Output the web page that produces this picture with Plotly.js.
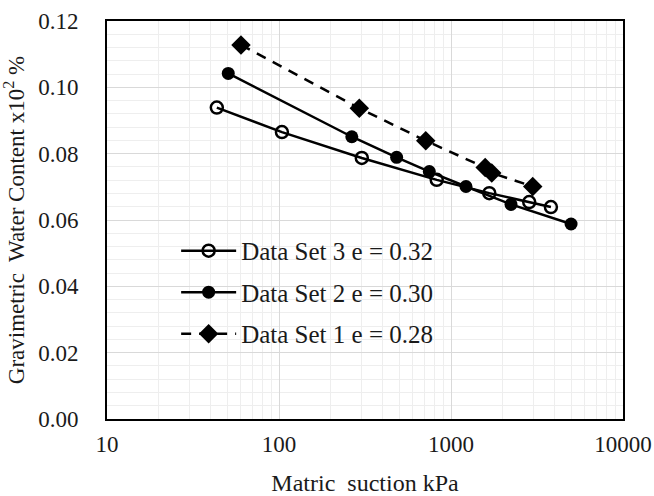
<!DOCTYPE html>
<html>
<head>
<meta charset="utf-8">
<script src="https://cdn.plot.ly/plotly-3.0.1.min.js"></script>
<style>html,body{margin:0;padding:0;background:#fff;}#chart{width:654px;height:496px;}</style>
</head>
<body>
<div id="chart"></div>
<script>
// Data Set 3 (e = 0.32) – open circles
const set3Suction = [43.5, 104, 303, 826, 1670, 2850, 3810];
const set3Water   = [0.0939, 0.0865, 0.0787, 0.0721, 0.0681, 0.0654, 0.0639];
// Data Set 2 (e = 0.30) – filled circles
const set2Suction = [50.7, 265, 483, 748, 1222, 2233, 4990];
const set2Water   = [0.1042, 0.0851, 0.0789, 0.0746, 0.0701, 0.0647, 0.0588];
// Data Set 1 (e = 0.28) – diamonds, dashed
const set1Suction = [60.1, 293, 713, 1580, 1725, 2986];
const set1Water   = [0.1128, 0.0937, 0.0839, 0.0758, 0.0742, 0.0701];

const seriesNames = ['Data Set 3 e = 0.32', 'Data Set 2 e = 0.30', 'Data Set 1 e = 0.28'];
const xTickVals = [10, 100, 1000, 10000];
const xTickText = ['10', '100', '1000', '10000'];

const FONT = 'Liberation Serif, Times New Roman, serif';
const INK = '#1a1a1a';

const traces = [
  {
    x: set3Suction, y: set3Water, name: seriesNames[0], legendgroup: 'g3',
    type: 'scatter', mode: 'lines+markers',
    line: {color: '#000', width: 2.5},
    marker: {symbol: 'circle-open', size: 12, color: '#000', line: {width: 2.5, color: '#000'}}
  },
  {
    x: set2Suction, y: set2Water, name: seriesNames[1], legendgroup: 'g2',
    type: 'scatter', mode: 'lines+markers',
    line: {color: '#000', width: 2.5},
    marker: {symbol: 'circle', size: 13, color: '#000'}
  },
  {
    x: set1Suction, y: set1Water, name: seriesNames[2], legendgroup: 'g1',
    type: 'scatter', mode: 'lines+markers',
    line: {color: '#000', width: 2.5, dash: '10px,8px'},
    marker: {symbol: 'diamond', size: 15, color: '#000'}
  }
];

const layout = {
  width: 654, height: 496,
  margin: {l: 107, r: 31, t: 21, b: 77},
  paper_bgcolor: '#fff', plot_bgcolor: '#fff',
  font: {family: FONT, color: INK, size: 23},
  showlegend: true,
  legend: {
    x: 0.134, y: 0.48, xanchor: 'left', yanchor: 'top',
    bgcolor: 'rgba(0,0,0,0)', borderwidth: 0,
    font: {family: FONT, size: 25, color: INK},
    tracegroupgap: 6, itemwidth: 55
  },
  xaxis: {
    type: 'log', range: [1, 4],
    tickvals: xTickVals, ticktext: xTickText,
    showgrid: true, gridcolor: '#d9d9d9', gridwidth: 1,
    minor: {dtick: 'D1', showgrid: true, gridcolor: '#eeeeee', gridwidth: 1},
    showline: true, linecolor: '#000', linewidth: 2, mirror: true,
    ticks: '', zeroline: false, ticklabelstandoff: 3,
    tickfont: {family: FONT, size: 23, color: INK},
    title: {text: 'Matric&nbsp; suction kPa', font: {family: FONT, size: 24, color: INK}, standoff: 22}
  },
  yaxis: {
    range: [0, 0.12], dtick: 0.02, tick0: 0, tickformat: '.2f',
    showgrid: true, gridcolor: '#d9d9d9', gridwidth: 1,
    minor: {dtick: 0.004, showgrid: true, gridcolor: '#eeeeee', gridwidth: 1},
    showline: true, linecolor: '#000', linewidth: 2, mirror: true,
    ticks: '', zeroline: false, ticklabelstandoff: 22,
    tickfont: {family: FONT, size: 23, color: INK},
    title: {text: 'Gravimetric&nbsp; Water Content x10<sup>2</sup> %', font: {family: FONT, size: 23, color: INK}, standoff: 9}
  }
};

Plotly.newPlot('chart', traces, layout, {displayModeBar: false, staticPlot: true});
</script>
</body>
</html>
